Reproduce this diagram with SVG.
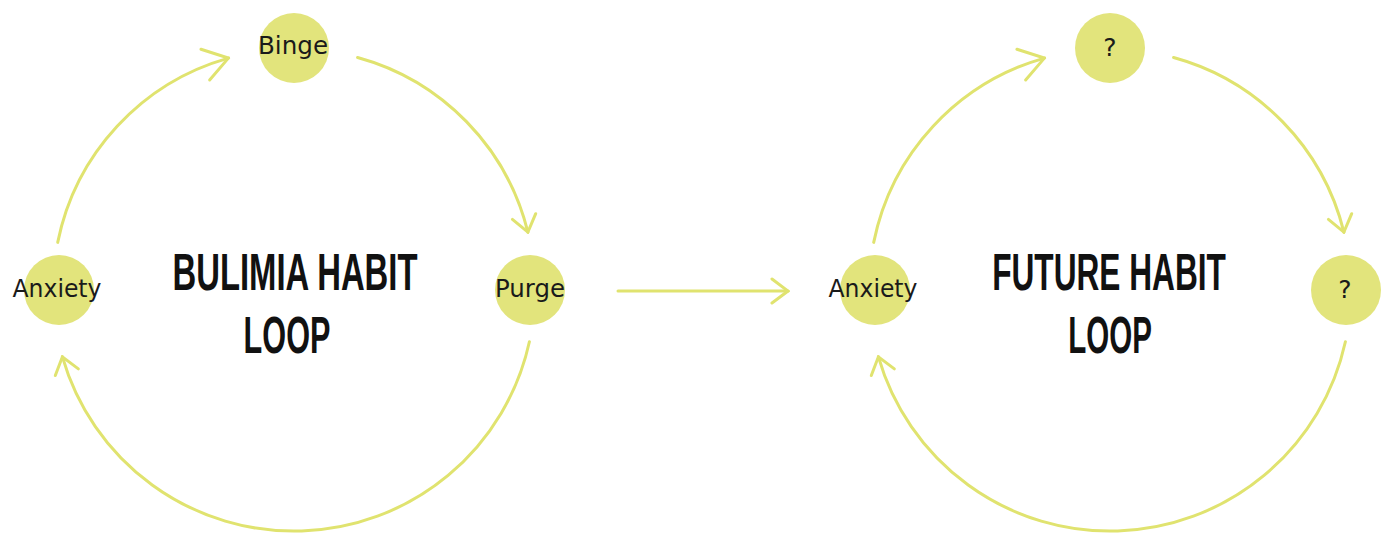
<svg xmlns="http://www.w3.org/2000/svg" width="1387" height="534" viewBox="0 0 1387 534">
  <style>
    .node { fill: #e2e47c; }
    .label { font-family: "DejaVu Sans", "Noto Sans", sans-serif; font-size: 24px; fill: #1a1a1a; text-anchor: middle; }
    .mark { font-size: 25px; }
    .title { font-family: "Liberation Sans", "DejaVu Sans", sans-serif; font-weight: bold; font-size: 52px; fill: #111; text-anchor: middle; }
    .link { fill: none; stroke: #e0e36f; stroke-width: 3; stroke-linecap: round; }
  </style>
  <defs>
    <marker id="head" viewBox="0 0 24 30" refX="22" refY="15" markerWidth="24" markerHeight="30" markerUnits="userSpaceOnUse" orient="auto">
      <path d="M6,3 L22,15 L6,27" fill="none" stroke="#e0e36f" stroke-width="3" stroke-linecap="round" stroke-linejoin="miter"/>
    </marker>
    <marker id="headLarge" viewBox="0 0 30 40" refX="28" refY="20" markerWidth="30" markerHeight="40" markerUnits="userSpaceOnUse" orient="auto">
      <path d="M4,4 L28,20 L4,36" fill="none" stroke="#e0e36f" stroke-width="3" stroke-linecap="round" stroke-linejoin="miter"/>
    </marker>
  </defs>

  <!-- connectors -->
  <g id="connectors">
    <!-- bulimia loop -->
    <path class="link" d="M57.7,242.4 A241,241 0 0 1 228.4,58.1" marker-end="url(#headLarge)"/>
    <path class="link" d="M357.6,57.5 A241,241 0 0 1 527.9,232.1" marker-end="url(#head)"/>
    <path class="link" d="M529.4,341.7 A241,241 0 0 1 62.4,356.8" marker-end="url(#head)"/>
    <!-- transition -->
    <path class="link" d="M618,291 L788,291" marker-end="url(#head)"/>
    <!-- future loop -->
    <path class="link" d="M873.7,242.4 A241,241 0 0 1 1044.4,58.1" marker-end="url(#headLarge)"/>
    <path class="link" d="M1173.6,57.5 A241,241 0 0 1 1343.9,232.1" marker-end="url(#head)"/>
    <path class="link" d="M1345.4,341.7 A241,241 0 0 1 878.4,356.8" marker-end="url(#head)"/>
  </g>

  <!-- bulimia loop nodes -->
  <g id="binge">
    <circle class="node" cx="294" cy="48" r="35"/>
    <text class="label" x="293" y="54" textLength="70" lengthAdjust="spacingAndGlyphs">Binge</text>
  </g>
  <g id="purge">
    <circle class="node" cx="530" cy="290" r="35"/>
    <text class="label" x="530" y="297" textLength="70" lengthAdjust="spacingAndGlyphs">Purge</text>
  </g>
  <g id="anxiety-1">
    <circle class="node" cx="59" cy="290" r="35"/>
    <text class="label" x="57" y="297" textLength="89" lengthAdjust="spacingAndGlyphs">Anxiety</text>
  </g>
  <!-- condensed headline: horizontal squeeze of a bold sans -->
  <g id="title-1">
    <text class="title" transform="translate(295,290) scale(0.62,1)" x="0" y="0" textLength="395" lengthAdjust="spacingAndGlyphs">BULIMIA HABIT</text>
    <text class="title" transform="translate(287,353) scale(0.62,1)" x="0" y="0" textLength="140" lengthAdjust="spacingAndGlyphs">LOOP</text>
  </g>

  <!-- future loop nodes -->
  <g id="unknown-top">
    <circle class="node" cx="1110" cy="48" r="35"/>
    <text class="label mark" x="1110" y="56">?</text>
  </g>
  <g id="unknown-right">
    <circle class="node" cx="1346" cy="290" r="35"/>
    <text class="label mark" x="1345" y="298">?</text>
  </g>
  <g id="anxiety-2">
    <circle class="node" cx="875" cy="290" r="35"/>
    <text class="label" x="873" y="297" textLength="89" lengthAdjust="spacingAndGlyphs">Anxiety</text>
  </g>
  <g id="title-2">
    <text class="title" transform="translate(1109,290) scale(0.62,1)" x="0" y="0" textLength="377" lengthAdjust="spacingAndGlyphs">FUTURE HABIT</text>
    <text class="title" transform="translate(1110,353) scale(0.62,1)" x="0" y="0" textLength="135" lengthAdjust="spacingAndGlyphs">LOOP</text>
  </g>
</svg>
